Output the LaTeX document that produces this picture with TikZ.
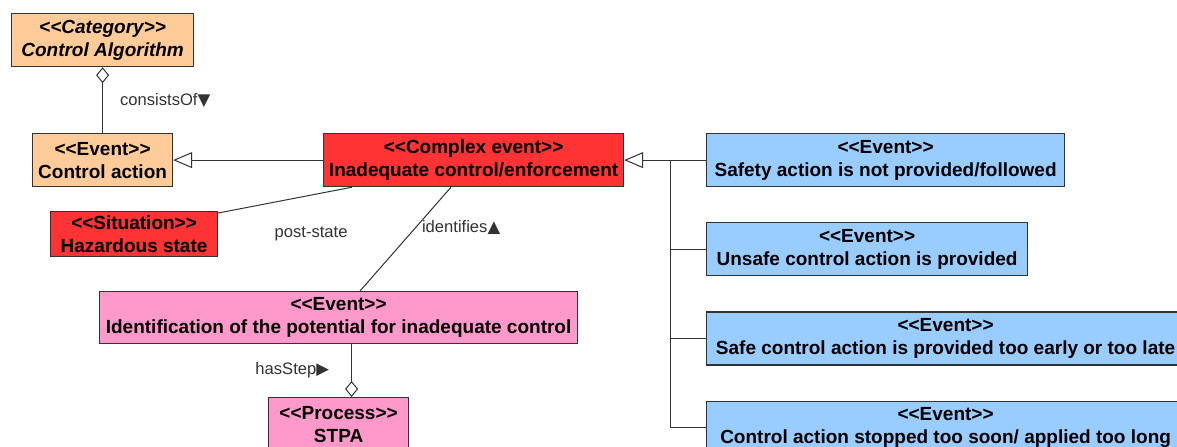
\documentclass[tikz,border=0pt]{standalone}
\usepackage{fontspec}
\setmainfont{Liberation Sans}[Ligatures=TeXOff]
\newfontfamily\symfont{DejaVu Sans}
\usetikzlibrary{arrows.meta, positioning}

\definecolor{peach}{HTML}{FFCC99}
\definecolor{alarm}{HTML}{FF3333}
\definecolor{rose}{HTML}{FF99CC}
\definecolor{sky}{HTML}{99CCFF}
\definecolor{edge}{HTML}{333333}

\begin{document}
\begin{tikzpicture}[x=0.5pt, y=-0.5pt,
    cls/.style={draw=edge, line width=0.6pt, align=center, inner sep=1.5pt, minimum height=26.5pt,
      font=\fontsize{9.5}{11.5}\selectfont\bfseries, anchor=north west},
    abstract/.style={font=\fontsize{9.5}{11.5}\selectfont\bfseries\itshape},
    lab/.style={inner sep=1pt, text=edge, font=\fontsize{8.3}{10}\selectfont},
    link/.style={draw=edge, line width=0.5pt},
    agg/.style={link, -{Diamond[open, length=8pt, width=6.5pt]}},
    gen/.style={link, -{Triangle[open, length=9.5pt, width=8pt]}}]
  \clip (0,0) rectangle (1177,446);
  \fill[white] (0,0) rectangle (1177,446);

  % left part
  \node[cls, abstract, fill=peach, minimum width=91pt] (category) at (11,13) {<<Category>>\\Control Algorithm};
  \node[cls, fill=peach, minimum width=70pt] (ctrl) at (32,133) {<<Event>>\\Control action};
  \node[cls, fill=alarm, minimum width=150pt] (complex) at (323,133) {<<Complex event>>\\Inadequate control/enforcement};
  \node[cls, fill=alarm, minimum width=83.5pt, minimum height=22.5pt] (hazard) at (50,211) {<<Situation>>\\Hazardous state};
  \node[cls, fill=rose, minimum width=239pt, minimum height=26pt] (ident) at (99,291) {<<Event>>\\Identification of the potential for inadequate control};
  \node[cls, fill=rose, minimum width=70pt] (stpa) at (268,397) {<<Process>>\\STPA};

  % kinds of inadequate control
  \node[cls, fill=sky, minimum width=179pt] (notprov) at (706,133) {<<Event>>\\Safety action is not provided/followed};
  \node[cls, fill=sky, minimum width=160.5pt, below=17.5pt of notprov.south west, anchor=north west] (unsafe) {<<Event>>\\Unsafe control action is provided};
  \node[cls, fill=sky, minimum width=239pt, below=17.5pt of unsafe.south west, anchor=north west] (early) {<<Event>>\\Safe control action is provided too early or too late};
  \node[cls, fill=sky, minimum width=239pt, below=17.5pt of early.south west, anchor=north west] (toolong) {<<Event>>\\Control action stopped too soon/ applied too long};

  % associations
  \draw[agg] (ctrl) -- (category) node[lab, midway, right=7.5pt] {consistsOf{\symfont ▼}};
  \draw[gen] (complex) -- (ctrl);
  \draw[link] ([xshift=14.5pt]complex.south west) -- ([yshift=-1pt]hazard.north east)
    node[lab, midway, xshift=13pt, yshift=-17pt] {post-state};
  \draw[link] ([xshift=64pt]complex.south west) -- ([xshift=130.5pt]ident.north west)
    node[lab, pos=0.39, right=2pt] {identifies{\symfont ▲}};
  \draw[agg] ([xshift=6.5pt]ident.south) -- ([xshift=6.5pt]stpa.north) node[lab, midway, left=10pt] {hasStep{\symfont ▶}};

  % generalisation tree
  \coordinate (bus) at ([xshift=23pt]complex.east);
  \draw[gen] (notprov) -- (complex);
  \foreach \n in {unsafe, early, toolong}
    \draw[link] (\n.west) -| (bus);
\end{tikzpicture}
\end{document}
